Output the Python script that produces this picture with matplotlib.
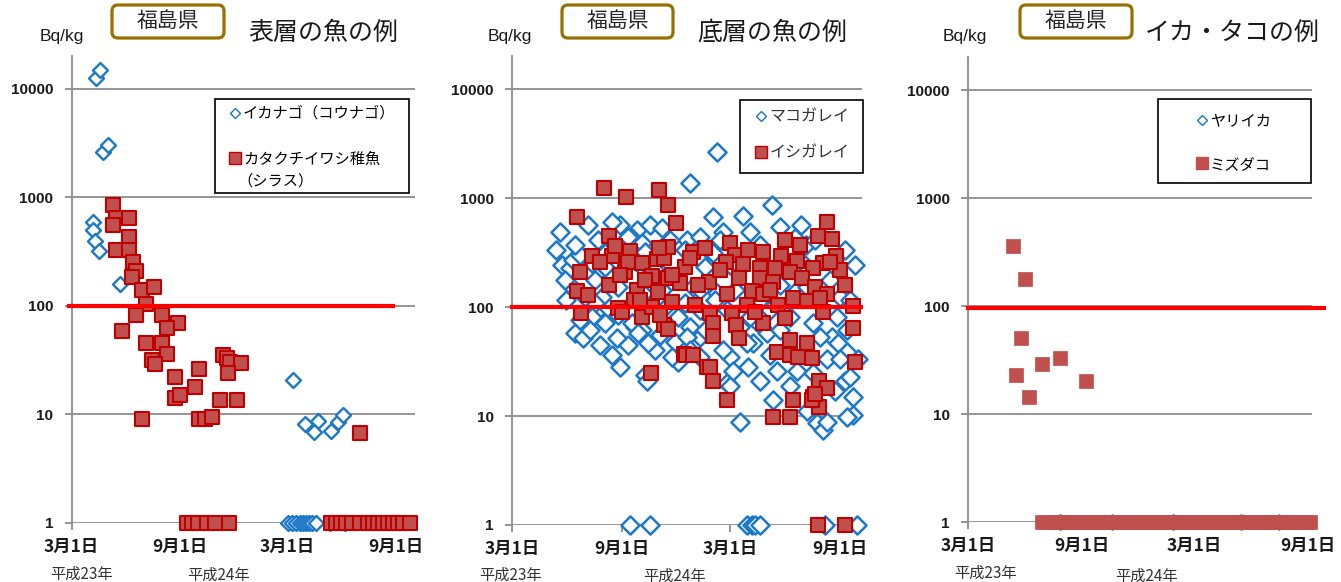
import matplotlib
matplotlib.use('Agg')
import matplotlib.pyplot as plt
from matplotlib.lines import Line2D
from matplotlib.patches import FancyBboxPatch, Rectangle
from matplotlib.ticker import NullLocator

# ---- data: x = days since 2011-03-01, y = Bq/kg (ND plotted as 1) ----
# panel 1: surface fish
ikanago_day = [42, 48, 53, 61, 37, 37, 39, 46, 83, 375, 395, 418, 411, 440, 452, 460,
               367, 373, 380, 387, 392, 397, 402, 407, 414, 438, 463]
ikanago_val = [12600, 15000, 2630, 3050, 595, 502, 397, 321, 160, 20.8, 8.2, 8.7, 6.9, 7.0, 8.5, 9.9,
               1, 1, 1, 1, 1, 1, 1, 1, 1, 1, 1]
shirasu_day = [70, 76, 98, 70, 98, 76, 98, 104, 110, 102, 119, 139, 126, 110, 154, 180, 85, 161,
               127, 154, 161, 137, 141, 175, 216, 209, 256, 264, 268, 287, 265, 251, 280, 175, 183,
               119, 216, 226, 238, 489,
               195, 204, 214, 229, 243, 267, 440, 448, 457, 465, 475, 489, 502, 511, 520, 528,
               537, 545, 554, 562, 574]
shirasu_val = [853, 647, 647, 558, 432, 328, 328, 255, 210, 185, 140, 150, 104, 83, 83, 70, 59, 63,
               46, 46, 36, 32, 29, 22, 26, 18, 35, 33, 30.5, 30, 24, 13.6, 13.6, 14.2, 15.1,
               9.1, 9.1, 9.1, 9.5, 6.75,
               1, 1, 1, 1, 1, 1, 1, 1, 1, 1, 1, 1, 1, 1, 1, 1,
               1, 1, 1, 1, 1]

# panel 2: bottom fish
makogarei_day = [74, 84, 97, 102, 97, 148, 139, 181, 210, 231, 252, 201, 218, 156, 134, 106, 119,
                 139, 156, 176, 206, 218, 240, 240, 273, 278, 181, 223, 151, 299, 344, 436, 337,
                 387, 399, 449, 485, 475, 493, 354, 337, 315, 293, 304, 344, 550, 537, 547, 562,
                 428, 404, 396, 366, 361, 444, 478, 528, 572, 572, 562, 438, 382, 511, 522, 299,
                 315, 411, 505, 382, 354, 478, 495, 528, 558, 366, 226,
                 195, 223, 240, 156, 178, 223, 252, 290, 139, 201, 211, 257, 278, 228, 268, 134,
                 122, 89, 114, 315, 349, 324, 315, 361, 399, 433, 466, 495, 533, 545, 567, 562,
                 394, 449, 517, 550, 371, 315, 293, 505, 416, 567,
                 80, 106, 127, 144, 168, 91, 114, 131, 148, 168, 195, 248, 299, 324, 340, 374,
                 416, 449, 491, 558, 575, 508, 416, 366, 290, 265, 315, 433, 466, 542, 580, 215,
                 240, 178,
                 198, 231, 394, 402, 408, 416, 525, 579]
makogarei_val = [333, 243, 228, 270, 159, 218, 177, 565, 509, 565, 531, 430, 387, 233, 253, 58, 52,
                 88, 71, 52, 66, 62, 50, 40, 48, 31, 28, 24, 124, 1372, 2642, 862, 669,
                 684, 488, 542, 565, 430, 371, 488, 313, 270, 412, 153, 134, 124, 53, 47, 39,
                 58, 47, 28, 35, 20, 26, 26, 33, 15, 10.2, 9.8, 14, 8.8, 8.6, 7.4, 66,
                 53, 73, 71, 66, 40, 143, 11, 8.8, 21, 19, 21,
                 439, 320, 218, 313, 153, 129, 143, 108, 108, 71, 58, 100, 81, 47, 35, 81,
                 124, 177, 300, 439, 412, 233, 94, 94, 81, 94, 81, 153, 177, 81, 116, 62,
                 47, 62, 53, 33, 26, 35, 53, 25, 21, 23,
                 488, 371, 565, 412, 603, 116, 76, 62, 45, 36, 45, 55, 40, 62, 116, 143,
                 116, 159, 243, 333, 243, 412, 371, 243, 333, 412, 143, 36, 19, 17, 33, 243,
                 116, 84,
                 1, 1, 1, 1, 1, 1, 1, 1]
ishigarei_day = [154, 191, 247, 262, 109, 275, 163, 134, 168, 198, 114, 109, 127, 163, 190, 218,
                 243, 255, 262, 247, 210, 235, 262, 282, 290, 205, 178, 184, 218, 235, 268, 116,
                 255, 262, 288, 233,
                 528, 513, 537, 304, 366, 374, 359, 387, 421, 451, 478, 543, 550, 522, 505, 330,
                 381, 416, 416, 438, 466, 486, 508, 528, 361, 402, 421, 495, 446, 471, 522, 572,
                 332, 369, 394, 421, 458, 337, 376, 337, 381, 292, 304, 444, 466, 466, 495, 503,
                 480, 572, 575, 327, 332, 337, 515, 528, 505, 515, 471, 361, 438, 466, 503, 508,
                 173, 195, 223, 245, 268, 299, 312, 181, 148, 215, 248, 307, 349, 396, 441, 483,
                 533, 558, 408, 433, 517, 324, 458,
                 513, 558]
ishigarei_val = [1236, 1022, 1184, 862, 669, 590, 448, 294, 294, 327, 210, 140, 129, 159, 210, 253,
                 276, 282, 355, 348, 143, 192, 185, 166, 233, 116, 98, 90, 81, 100, 111, 88,
                 68, 63, 37, 25,
                 603, 448, 421, 320, 387, 300, 259, 248, 320, 294, 264, 294, 218, 253, 228, 170,
                 185, 228, 185, 170, 210, 185, 153, 132, 132, 140, 132, 114, 104, 121, 90, 102,
                 88, 88, 104, 71, 79, 71, 68, 54, 52, 36, 36, 39, 50, 36, 47, 34,
                 35, 64, 31, 28, 28, 21, 21, 18, 15, 12, 14, 14, 9.8, 9.8, 14, 16,
                 361, 259, 177, 137, 196, 282, 159, 196, 259, 116, 84, 104, 218, 333, 228, 371,
                 259, 159, 90, 143, 121, 348, 412,
                 1, 1]

# panel 3: squid and octopus
yariika_day = [149, 232, 331, 441, 502]
yariika_val = [1, 1, 1, 1, 1]
mizudako_day = [72, 92, 85, 78, 99, 120, 149, 190,
                120, 127, 135, 142, 148, 156, 162, 170, 177, 183, 191, 197, 204, 212, 218, 225,
                233, 239, 246, 254, 260, 267, 275, 281, 288, 296, 302, 309, 317, 323, 330, 338,
                344, 351, 359, 365, 372, 380, 386, 393, 401, 407, 414, 422, 428, 435, 443, 449,
                456, 464, 470, 477, 485, 491, 498, 506, 512, 519, 527, 533, 540, 547, 553]
mizudako_val = [359, 177, 51, 23, 14.5, 28.9, 32.8, 20.2,
                1, 1, 1, 1, 1, 1, 1, 1, 1, 1, 1, 1, 1, 1, 1, 1,
                1, 1, 1, 1, 1, 1, 1, 1, 1, 1, 1, 1, 1, 1, 1, 1,
                1, 1, 1, 1, 1, 1, 1, 1, 1, 1, 1, 1, 1, 1, 1, 1,
                1, 1, 1, 1, 1, 1, 1, 1, 1, 1, 1, 1, 1, 1, 1]

xtick_days = [0, 184, 366, 550]
xtick_labels = ['3月1日', '9月1日', '3月1日', '9月1日']
ytick_vals = [1, 10, 100, 1000, 10000]
ytick_labels = ['1', '10', '100', '1000', '10000']

# ---- style ----
JP = 'Noto Sans CJK JP'
blue = '#1B78C8'
red_face = '#C0504D'
red_edge = '#C00000'
grid_c = '#8C8C8C'
W, H = 1341, 582


def fx(px):
    return px / W


def fy(py):
    return 1 - py / H


fig = plt.figure(figsize=(13.41, 5.82), dpi=100)

ax1 = fig.add_axes([fx(71.5), fy(523), (415 - 71.5) / W, 466.7 / H])
ax2 = fig.add_axes([fx(512), fy(525), (862 - 512) / W, 468.8 / H])
ax3 = fig.add_axes([fx(968), fy(522), (1312 - 968) / W, 464.5 / H])


def style(ax, xmax):
    ax.set_yscale('log')
    ax.set_ylim(1, 20000)
    ax.set_xlim(0, xmax)
    ax.set_yticks(ytick_vals)
    ax.set_yticklabels(ytick_labels)
    ax.yaxis.set_minor_locator(NullLocator())
    ax.set_xticks(xtick_days)
    ax.set_xticklabels(xtick_labels)
    ax.grid(axis='y', color=grid_c, lw=1.3)
    ax.set_axisbelow(True)
    for s in ['top', 'right', 'bottom']:
        ax.spines[s].set_visible(False)
    ax.spines['left'].set_color(grid_c)
    ax.spines['left'].set_linewidth(1.3)
    ax.tick_params(axis='y', length=5, color=grid_c, width=1.3, pad=8)
    ax.tick_params(axis='x', length=5, color=grid_c, width=1.3, pad=6)
    for t in ax.get_yticklabels():
        t.set_fontfamily('Liberation Sans')
        t.set_fontweight('bold')
        t.set_fontsize(11)
        t.set_color('#1a1a1a')
    for t in ax.get_xticklabels():
        t.set_fontfamily(JP)
        t.set_fontweight('bold')
        t.set_fontsize(12.5)
        t.set_color('#1a1a1a')


style(ax1, 582)
style(ax2, 587)
style(ax3, 556)

# panel 1
ax1.scatter(ikanago_day, ikanago_val, marker='D', s=58, facecolor='white',
            edgecolor=blue, linewidth=1.7, clip_on=False, zorder=3)
ax1.scatter(shirasu_day, shirasu_val, marker='s', s=90, facecolor=red_face,
            edgecolor=red_edge, linewidth=1.5, clip_on=False, zorder=4)
ax1.plot([-5, 545], [100, 100], color='#FF0000', lw=3, clip_on=False, zorder=6)

# panel 2
ax2.scatter(makogarei_day, makogarei_val, marker='D', s=85, facecolor='white',
            edgecolor=blue, linewidth=1.8, clip_on=False, zorder=3)
ax2.scatter(ishigarei_day, ishigarei_val, marker='s', s=90, facecolor=red_face,
            edgecolor=red_edge, linewidth=1.5, clip_on=False, zorder=4)
ax2.plot([0, 585], [100, 100], color='#FF0000', lw=3, clip_on=False, zorder=6)

# panel 3
ax3.scatter(yariika_day, yariika_val, marker='D', s=60, facecolor='white',
            edgecolor=blue, linewidth=1.2, clip_on=False, zorder=3)
ax3.scatter(mizudako_day, mizudako_val, marker='s', s=115, facecolor=red_face,
            edgecolor=red_face, linewidth=0.5, clip_on=False, zorder=4)
ax3.plot([0, 576], [95, 95], color='#FF0000', lw=3, clip_on=False, zorder=6)


# legends: frame drawn as a box in pixel coordinates, entries by fig.legend
def make_legend(labels, box, top, marker_x, fs, spacing, sq_edge, color):
    x0, y0, x1, y1 = box
    fig.add_artist(Rectangle((fx(x0), fy(y1)), (x1 - x0) / W, (y1 - y0) / H,
                             transform=fig.transFigure, facecolor='white',
                             edgecolor='black', linewidth=1.2, zorder=1))
    fs_px = fs * 100 / 72
    h1 = Line2D([], [], ls='none', marker='D', ms=5, mfc='white', mec=blue, mew=1.0)
    h2 = Line2D([], [], ls='none', marker='s', ms=8, mfc=red_face, mec=sq_edge, mew=1.0)
    leg = fig.legend([h1, h2], labels, loc='upper left',
                     bbox_to_anchor=(fx(marker_x - 0.35 * fs_px), fy(top)),
                     frameon=False, borderpad=0, borderaxespad=0, labelspacing=spacing,
                     handlelength=0.7, handletextpad=0.18,
                     prop={'family': JP, 'size': fs})
    for t in leg.get_texts():
        t.set_color(color)
    return leg


make_legend(['イカナゴ（コウナゴ）', 'カタクチイワシ稚魚'], (215, 99, 409, 193),
            105, 235, 11, 1.88, red_edge, '#000000')
fig.text(fx(237), fy(181), '（シラス）', family=JP, fontsize=11, ha='left',
         va='center', color='#000000')
make_legend(['マコガレイ', 'イシガレイ'], (740, 100, 863, 173),
            108.5, 761, 11.5, 1.19, red_edge, '#333333')
make_legend(['ヤリイカ', 'ミズダコ'], (1158, 99, 1311, 183),
            112, 1202, 11, 1.75, red_face, '#000000')

# headers
boxes = [(112, 224), (562, 673), (1020, 1132)]
titles = [(248, '表層の魚の例'), (697, '底層の魚の例'), (1145, 'イカ・タコの例')]
units = [40, 488, 943]
for (bx0, bx1), (tx, title), ux in zip(boxes, titles, units):
    box = FancyBboxPatch((bx0 / 100, (H - 38) / 100), (bx1 - bx0) / 100, 0.33,
                         boxstyle='round,pad=0,rounding_size=0.06',
                         transform=fig.dpi_scale_trans, facecolor='white',
                         edgecolor='#977000', linewidth=2.3)
    fig.add_artist(box)
    fig.text(fx((bx0 + bx1) / 2), fy(21), '福島県', family=JP, fontsize=15,
             ha='center', va='center', color='#262626')
    fig.text(fx(tx), fy(33), title, family=JP, fontsize=18,
             ha='left', va='center', color='#1a1a1a')
    fig.text(fx(ux), fy(36), 'Bq/kg', family='Liberation Sans', fontsize=12.5,
             ha='left', va='center', color='#1a1a1a')

# era year labels
years = [(82, 574, '平成23年'), (219, 575, '平成24年'),
         (511, 575, '平成23年'), (675, 576, '平成24年'),
         (986, 573, '平成23年'), (1147, 576, '平成24年')]
for x, y, s in years:
    fig.text(fx(x), fy(y), s, family=JP, fontsize=11, ha='center', va='center',
             color='#333333')

fig.savefig('out.png', dpi=100)
